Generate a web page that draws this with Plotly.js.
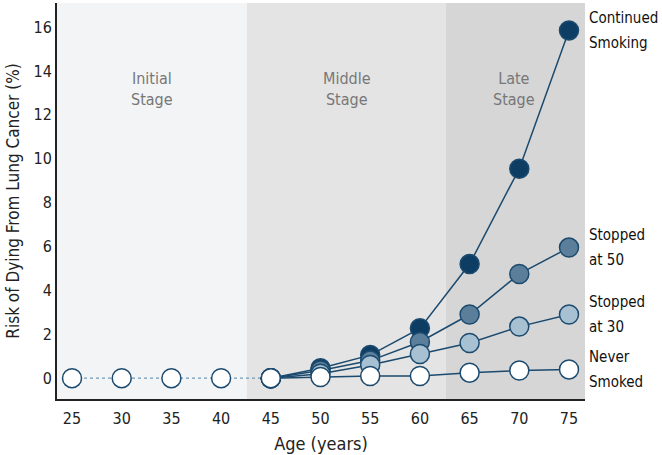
<!DOCTYPE html>
<html><head><meta charset="utf-8">
<script src="https://cdn.plot.ly/plotly-3.0.1.min.js"></script>
<style>html,body{margin:0;padding:0;background:#fff;}#chart{width:662px;height:455px;}</style>
</head><body><div id="chart"></div>
<script>
const earlyAges = [25, 30, 35, 40, 45];
const earlyRisk = [0, 0, 0, 0, 0];
const ages = [45, 50, 55, 60, 65, 70, 75];
const continuedSmoking = [0, 0.45, 1.05, 2.27, 5.2, 9.55, 15.85];
const stoppedAt50 = [0, 0.35, 0.8, 1.65, 2.9, 4.75, 5.95];
const stoppedAt30 = [0, 0.2, 0.6, 1.1, 1.6, 2.35, 2.9];
const neverSmoked = [0, 0.05, 0.1, 0.1, 0.25, 0.35, 0.4];
const seriesLabels = [["Continued", "Smoking"], ["Stopped", "at 50"], ["Stopped", "at 30"], ["Never", "Smoked"]];
const stageLabels = ["Initial<br>Stage", "Middle<br>Stage", "Late<br>Stage"];
const stageBounds = [23.49, 42.6, 62.6, 76.61];
const stageCenters = [33, 52.7, 69.5];
const xTicks = [25, 30, 35, 40, 45, 50, 55, 60, 65, 70, 75];
const yTicks = [0, 2, 4, 6, 8, 10, 12, 14, 16];

const FONT = '"DejaVu Sans Condensed", "Liberation Sans Narrow", sans-serif';
const edge = '#1b4a6e';
const fills = ['#0e3d63', '#5b7f9b', '#a7c1d2', '#ffffff'];
const series = [continuedSmoking, stoppedAt50, stoppedAt30, neverSmoked];

const traces = [{
  x: earlyAges, y: earlyRisk, mode: 'lines+markers', type: 'scatter',
  line: {color: '#6f9bbb', width: 1.2, dash: 'dot'},
  marker: {size: 19, color: '#ffffff', line: {color: edge, width: 1.5}},
  hoverinfo: 'skip', cliponaxis: false
}];
series.forEach((s, i) => {
  traces.push({
    x: ages, y: s, mode: 'lines+markers', type: 'scatter',
    line: {color: edge, width: 1.5},
    marker: {size: 19, color: fills[i], line: {color: edge, width: 1.5}},
    cliponaxis: false
  });
});

const bandColors = ['#f3f4f6', '#e4e4e4', '#d6d6d6'];
const shapes = bandColors.map((c, i) => ({
  type: 'rect', xref: 'x', yref: 'paper', x0: stageBounds[i], x1: stageBounds[i+1],
  y0: 0, y1: 1, fillcolor: c, line: {width: 0}, layer: 'below'
}));

const annotations = [];
stageLabels.forEach((t, i) => annotations.push({
  x: stageCenters[i], y: 13.2, xref: 'x', yref: 'y', text: t, showarrow: false,
  font: {family: FONT, size: 16, color: '#777777'}, align: 'center'
}));
seriesLabels.forEach((lines, i) => {
  const last = series[i][series[i].length - 1];
  lines.forEach((t, j) => annotations.push({
    x: 1.004, y: last, xref: 'paper', yref: 'y', text: t, showarrow: false,
    xanchor: 'left', yanchor: 'middle', align: 'left', yshift: j === 0 ? 12.5 : -12.5,
    font: {family: FONT, size: 15, color: '#111111'}
  }));
});

const layout = {
  width: 662, height: 455,
  margin: {l: 57, r: 77, t: 3, b: 56},
  paper_bgcolor: '#ffffff', plot_bgcolor: '#ffffff',
  showlegend: false,
  font: {family: FONT, size: 15, color: '#222222'},
  xaxis: {
    range: [stageBounds[0], stageBounds[3]], tickvals: xTicks, ticktext: xTicks.map(String),
    showgrid: false, zeroline: false, showline: true, linecolor: '#222222', linewidth: 2,
    ticks: '', ticklabelstandoff: 4,
    tickfont: {family: FONT, size: 16, color: '#222222'},
    title: {text: 'Age (years)', font: {family: FONT, size: 18, color: '#222222'}, standoff: 10}
  },
  yaxis: {
    range: [-0.95, 17.1], tickvals: yTicks, ticktext: yTicks.map(String),
    showgrid: false, zeroline: false, showline: true, linecolor: '#222222', linewidth: 2,
    ticks: '', tickfont: {family: FONT, size: 16, color: '#222222'},
    title: {text: 'Risk of Dying From Lung Cancer (%)', font: {family: FONT, size: 17, color: '#222222'}, standoff: 10}
  },
  shapes: shapes,
  annotations: annotations
};
Plotly.newPlot('chart', traces, layout, {displayModeBar: false, staticPlot: true});
</script></body></html>
